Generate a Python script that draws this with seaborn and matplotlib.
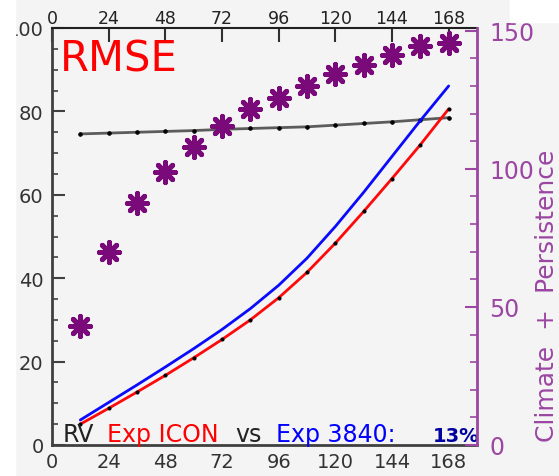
import matplotlib
matplotlib.use("Agg")
import matplotlib.pyplot as plt
import numpy as np
import pandas as pd
import seaborn as sns
from matplotlib.ticker import MultipleLocator
from matplotlib.patches import Rectangle

# Forecast lead time (hours)
lead_hours = [12, 24, 36, 48, 60, 72, 84, 96, 108, 120, 132, 144, 156, 168]
# RMSE of the two experiments (left axis)
rmse_icon = [5.0, 8.8, 12.7, 16.7, 20.9, 25.3, 30.0, 35.3, 41.4, 48.4, 56.0, 63.9, 72.0, 80.6]
rmse_3840 = [6.0, 10.2, 14.4, 18.7, 23.1, 27.7, 32.7, 38.3, 44.8, 52.4, 60.6, 69.2, 77.8, 86.1]
# Reference line (left axis)
rmse_ref = [74.6, 74.8, 75.0, 75.2, 75.4, 75.7, 75.9, 76.1, 76.3, 76.7, 77.1, 77.5, 78.0, 78.5]
# Climate + Persistence score (right axis)
clim_persist = [43.1, 69.8, 87.6, 99.0, 108.0, 115.6, 121.7, 125.7, 130.0, 134.4, 137.7, 141.3, 144.6, 145.7]
x_ticks = [0, 24, 48, 72, 96, 120, 144, 168]

BG = "#f4f4f4"
PURPLE_AX = "#9a46a2"
PURPLE_MK = "#7a0a7a"

sns.set_theme(style="white")
plt.rcParams["font.family"] = ["DejaVu Sans"]

df = pd.DataFrame({
    "hour": lead_hours,
    "icon": rmse_icon,
    "exp3840": rmse_3840,
    "ref": rmse_ref,
    "clim": clim_persist,
})

W, H = 559, 477
fig = plt.figure(figsize=(W / 100, H / 100), dpi=100, facecolor=BG)
ax = fig.add_axes([52 / W, 31 / H, 425 / W, 417 / H])
ax.set_facecolor(BG)

sns.lineplot(data=df, x="hour", y="ref", ax=ax, color="#5c5c5c", linewidth=2,
             marker="o", markersize=2.5, markerfacecolor="black",
             markeredgecolor="black")
sns.lineplot(data=df, x="hour", y="exp3840", ax=ax, color="#0a0aff", linewidth=2)
sns.lineplot(data=df, x="hour", y="icon", ax=ax, color="#ff0a0a", linewidth=2,
             marker="o", markersize=2.2, markerfacecolor="black",
             markeredgecolor="black")

ax.set_xlim(0, 180)
ax.set_ylim(0, 100)
ax.set_xlabel("")
ax.set_ylabel("")
ax.set_xticks(x_ticks)
ax.yaxis.set_major_locator(MultipleLocator(20))
ax.yaxis.set_minor_locator(MultipleLocator(5))
ax.tick_params(axis="y", which="major", direction="in", length=9, width=1.5,
               labelsize=14, labelcolor="#333333", color="#404040", pad=6)
ax.tick_params(axis="y", which="minor", direction="in", length=4, width=1.2,
               color="#404040", left=True)
ax.tick_params(axis="x", which="major", direction="in", length=6, width=1.5,
               labelsize=14, labelcolor="#333333", color="#404040", pad=5)

for side in ("left", "bottom"):
    ax.spines[side].set_color("#404040")
    ax.spines[side].set_linewidth(2)
ax.spines["top"].set_color("#202020")
ax.spines["top"].set_linewidth(1.5)
ax.spines["right"].set_visible(False)

# Top axis with the same hour ticks
top = ax.secondary_xaxis("top")
top.set_xticks(x_ticks)
top.tick_params(direction="in", length=10, width=1.5, labelsize=12.5,
                labelcolor="#222222", color="#303030", pad=1)
top.spines["top"].set_visible(False)

# Right axis: Climate + Persistence
ax2 = ax.twinx()
sns.scatterplot(data=df, x="hour", y="clim", ax=ax2, marker=(8, 2, 0), s=210,
                color=PURPLE_MK, edgecolor=PURPLE_MK, linewidth=3.6, zorder=5)
ax2.set_ylim(0, 151)
ax2.set_ylabel("")
ax2.yaxis.set_major_locator(MultipleLocator(50))
ax2.yaxis.set_minor_locator(MultipleLocator(10))
ax2.tick_params(axis="y", which="major", direction="in", length=9, width=1.5,
                labelsize=17, labelcolor=PURPLE_AX, color=PURPLE_AX, pad=9)
ax2.tick_params(axis="y", which="minor", direction="in", length=5, width=1.2,
                color=PURPLE_AX, right=True)
for side in ("left", "top", "bottom"):
    ax2.spines[side].set_visible(False)
ax2.spines["right"].set_color(PURPLE_AX)
ax2.spines["right"].set_linewidth(2)

fig.text(547 / W, 0.38, "Climate  +  Persistence", rotation=90, color=PURPLE_AX,
         fontsize=18, ha="center", va="center")

# Title and experiment annotation inside the plot
ax.text(0.019, 0.897, "RMSE", transform=ax.transAxes, color="#ff0000",
        fontsize=30, ha="left", va="baseline")
ann_y = 0.01
ax.text(0.024, ann_y, "RV", transform=ax.transAxes, color="#222222", fontsize=17, va="baseline")
ax.text(0.129, ann_y, "Exp ICON", transform=ax.transAxes, color="#ff0000", fontsize=17, va="baseline")
ax.text(0.431, ann_y, "vs", transform=ax.transAxes, color="#222222", fontsize=17, va="baseline")
ax.text(0.527, ann_y, "Exp 3840:", transform=ax.transAxes, color="#0000ff", fontsize=17, va="baseline")
ax.text(0.896, ann_y, "13%", transform=ax.transAxes, color="#0000a0", fontsize=14,
        fontweight="bold", va="baseline")

# Blank margins of the canvas
fig.patches.append(Rectangle((0, 0), 15 / W, 1, transform=fig.transFigure,
                             color="white", zorder=10))
fig.patches.append(Rectangle((510 / W, 1 - 23 / H), 49 / W, 23 / H,
                             transform=fig.transFigure, color="white", zorder=10))

fig.savefig("out.png", dpi=100, facecolor=BG)
